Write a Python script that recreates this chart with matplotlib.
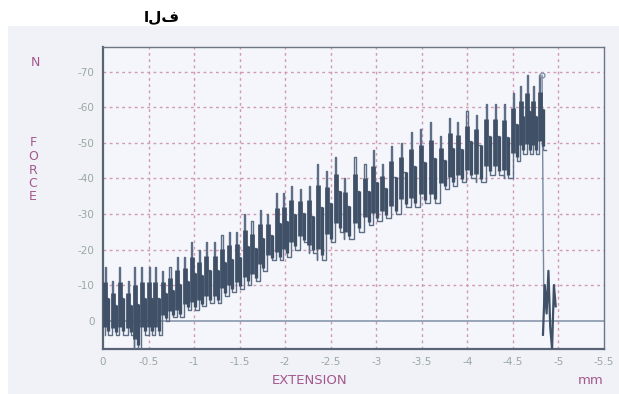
import matplotlib
matplotlib.use("Agg")
import matplotlib.pyplot as plt
from matplotlib.patches import Rectangle

plt.rcParams['axes.unicode_minus'] = False

# ---- data (extension in mm, force in N; both negative as in the instrument) ----
cycle_x = [-0.02, -0.10, -0.18, -0.27, -0.34, -0.42, -0.50, -0.57, -0.65, -0.73,
           -0.81, -0.89, -0.97, -1.05, -1.13, -1.22, -1.30, -1.38, -1.46, -1.55,
           -1.63, -1.72, -1.80, -1.90, -1.98, -2.06, -2.16, -2.26, -2.35, -2.45,
           -2.55, -2.65, -2.76, -2.87, -2.96, -3.06, -3.16, -3.27, -3.38, -3.48,
           -3.59, -3.70, -3.80, -3.89, -3.99, -4.09, -4.20, -4.30, -4.40, -4.50,
           -4.58, -4.65, -4.72, -4.79]
cycle_high = [-15, -11, -15, -11, -15, -15, -15, -15, -14, -15,
              -18, -18, -22, -20, -22, -22, -24, -25, -25, -30,
              -28, -31, -30, -36, -36, -38, -37, -38, -44, -42,
              -46, -40, -46, -44, -48, -44, -49, -50, -53, -54,
              -56, -52, -57, -56, -59, -58, -61, -61, -61, -64,
              -66, -69, -66, -69]
cycle_low = [4, 4, 4, 4, 8, 4, 4, 4, 0, -1,
             -1, -3, -3, -4, -5, -5, -7, -8, -9, -10,
             -11, -14, -17, -17, -18, -20, -22, -19, -17, -22,
             -25, -23, -25, -27, -28, -29, -30, -32, -32, -33,
             -33, -37, -38, -39, -40, -39, -41, -41, -40, -45,
             -47, -47, -47, -48]
break_x = [-4.82, -4.84]
break_y = [-69, -3]
tail_x = [-4.83, -4.85, -4.87, -4.89, -4.91, -4.93, -4.95, -4.97]
tail_y = [4, -10, -2, -14, 2, 8, -10, -4]

x_ticks = [0, -0.5, -1, -1.5, -2, -2.5, -3, -3.5, -4, -4.5, -5, -5.5]
x_ticklabels = ["0", "-0.5", "-1", "-1.5", "-2", "-2.5", "-3", "-3.5", "-4", "-4.5", "-5", "-5.5"]
y_ticks = [0, -10, -20, -30, -40, -50, -60, -70]
y_ticklabels = ["0", "-10", "-20", "-30", "-40", "-50", "-60", "-70"]

# ---- figure ----
W, H = 619, 394
fig = plt.figure(figsize=(W / 100, H / 100), dpi=100)
fig.patch.set_facecolor("white")
fig.patches.append(Rectangle((8 / W, 0), 1 - 8 / W, 1 - 26 / H, transform=fig.transFigure,
                             facecolor="#f1f2f8", edgecolor="none", zorder=-10))

ax = fig.add_axes([103 / W, 1 - 349 / H, (604 - 103) / W, (349 - 47) / H])
ax.set_zorder(5)
ax.set_facecolor("#f5f6fb")
ax.set_xlim(0, -5.5)
ax.set_ylim(8, -77)

grid_c = "#d09ab2"
for xv in x_ticks[1:-1]:
    ax.axvline(xv, color=grid_c, lw=1.0, ls=(0, (2, 2.5)), zorder=1)
for yv in y_ticks[1:]:
    ax.axhline(yv, color=grid_c, lw=1.0, ls=(0, (2, 2.5)), zorder=1)

ax.axhline(0, color="#7f8ea5", lw=1.1, zorder=2)

dark = "#3f5067"
thin = "#5d6e86"
# step-like oscillating trace
px, py = [], []
for i in range(len(cycle_x)):
    nxt = cycle_x[i + 1] if i + 1 < len(cycle_x) else cycle_x[i] - 0.07
    a = cycle_x[i]
    b = a + (nxt - a) * 0.5
    m = cycle_high[i] * 0.55 + cycle_low[i] * 0.45
    px += [a, a, a - 0.012, a - 0.012, b, b, nxt]
    py += [cycle_low[i], cycle_high[i], cycle_high[i], m, m, cycle_low[i], cycle_low[i]]
ax.plot(px, py, color=thin, lw=1.0, zorder=3)
# thick blocks where the pen dwells
for i in range(len(cycle_x)):
    nxt = cycle_x[i + 1] if i + 1 < len(cycle_x) else cycle_x[i] - 0.07
    a = cycle_x[i]
    b = a + (nxt - a) * 0.5
    rng = cycle_high[i] - cycle_low[i]
    m = cycle_high[i] * 0.55 + cycle_low[i] * 0.45
    ax.vlines(a - 0.006, cycle_low[i] + rng * 0.12, cycle_high[i] - rng * 0.22,
              color=dark, lw=3.4, zorder=4)
    ax.vlines(b, cycle_low[i] + rng * 0.05, m, color=dark, lw=2.4, zorder=4)

ax.plot(break_x, break_y, color="#7888a0", lw=1.0, zorder=3)
ax.plot([break_x[0]], [break_y[0]], marker="o", ms=3.5, mfc="none", mec="#8090a8", zorder=5)
ax.plot(tail_x, tail_y, color=dark, lw=1.6, zorder=4)

ax.set_xticks(x_ticks)
ax.set_xticklabels(x_ticklabels)
ax.set_yticks(y_ticks)
ax.set_yticklabels(y_ticklabels)
ax.tick_params(length=0, colors="#98a8a0", labelsize=7.5, pad=6)

for s in ["left", "bottom"]:
    ax.spines[s].set_color("#5a6376")
    ax.spines[s].set_linewidth(1.6)
for s in ["top", "right"]:
    ax.spines[s].set_color("#6e7686")
    ax.spines[s].set_linewidth(1.0)

lab_c = "#a3588d"
fig.text(35 / W, 1 - 63 / H, "N", color=lab_c, fontsize=9, ha="center", va="center")
for k, ch in enumerate("FORCE"):
    fig.text(33 / W, 1 - (143 + 13.5 * k) / H, ch, color=lab_c, fontsize=9, ha="center", va="center")
fig.text(310 / W, 1 - 380 / H, "EXTENSION", color=lab_c, fontsize=9.5,
         ha="center", va="center")
fig.text(591 / W, 1 - 381 / H, "mm", color=lab_c, fontsize=9.5,
         ha="center", va="center")
fig.text(162 / W, 1 - 17 / H, "الف", color="black", fontsize=11, fontweight="bold",
         ha="center", va="center", family=["DejaVu Sans"])

fig.savefig("out.png", dpi=100, facecolor=fig.get_facecolor())
